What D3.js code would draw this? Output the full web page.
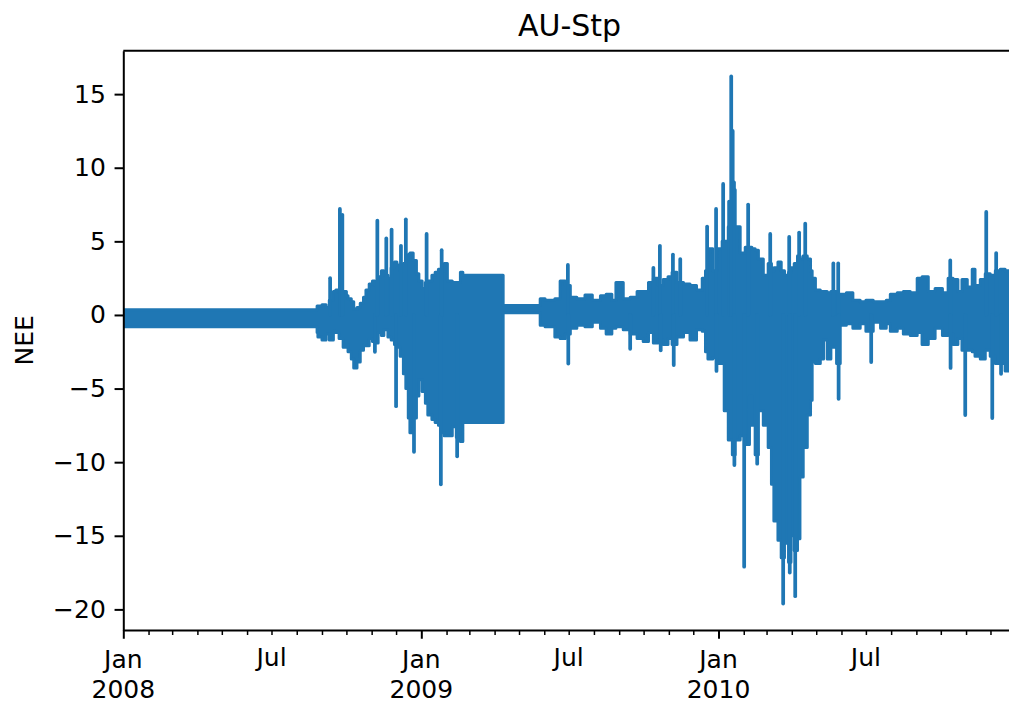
<!DOCTYPE html>
<html>
<head>
<meta charset="utf-8">
<script src="https://cdn.jsdelivr.net/npm/d3@7"></script>
<style>
  body { margin: 0; background: #fff; }
  text { font-family: "DejaVu Sans", sans-serif; }
</style>
</head>
<body>
<div id="my_dataviz"></div>
<script>
// half-hourly NEE is far too dense to type, so the band is kept as an
// upper/lower envelope (days since 1 Jan 2008) plus the single tall spikes
const envDay = [0, 238, 239, 244, 249, 253, 258, 261, 265, 270,
  274, 276, 280, 283, 287, 291, 295, 298, 302, 306,
  309, 313, 317, 320, 325, 329, 333, 336, 340, 344,
  347, 350, 352, 356, 360, 363, 367, 371, 374, 379,
  383, 387, 390, 394, 398, 404, 409, 414, 417, 466.5,
  512, 518, 530, 536.5, 543, 549, 557, 567, 576, 586,
  593, 600, 605, 614, 622.5, 631, 638.5, 645, 651, 657,
  663, 669, 674, 680, 688, 696, 704, 711, 715, 718,
  724, 729, 735.5, 738, 743, 748, 751.5, 757.6, 763.8, 769,
  772, 776, 780, 786, 792, 796, 799, 804, 808, 812,
  817, 820, 824, 828, 831, 835, 840, 844, 846, 850,
  856, 860, 864.5, 869, 876, 880.5, 888, 896, 905, 912,
  921, 930, 937, 942, 950.5, 958, 966.5, 975, 981, 988.6,
  997, 1006, 1013, 1019, 1025, 1030, 1036.5, 1042.6, 1046, 1052.5,
  1058.6, 1064.7, 1071, 1077, 1083, 1096];

const envHi = [0.35, 0.6, 0.6, 0.7, 0.5, 1.0, 1.6, 1.7, 1.5, 1.6,
  1.3, 1.1, 0.9, 0.4, 0.5, 0.8, 1.2, 1.7, 2.1, 2.3,
  2.0, 2.6, 3.0, 2.7, 2.5, 3.2, 3.6, 3.4, 3.0, 3.5,
  3.8, 4.1, 4.2, 3.7, 2.8, 2.3, 1.8, 2.2, 2.3, 2.7,
  2.9, 3.1, 3.0, 3.5, 2.3, 2.2, 2.2, 2.9, 2.7, 0.65,
  1.1, 1.0, 1.1, 2.3, 2.0, 1.2, 1.1, 1.35, 1.0, 1.3,
  1.4, 1.0, 2.2, 1.1, 1.2, 1.6, 1.6, 2.2, 2.5, 2.0,
  2.4, 2.6, 2.9, 2.2, 2.1, 2.0, 1.7, 2.5, 3.0, 4.5,
  3.0, 4.5, 5.0, 5.0, 6.0, 8.5, 6.0, 4.2, 4.6, 4.6,
  4.5, 4.4, 3.8, 2.7, 3.5, 3.0, 3.2, 3.6, 3.0, 2.7,
  2.9, 3.2, 3.5, 4.0, 3.8, 4.0, 3.8, 3.0, 2.5, 1.7,
  1.6, 1.6, 1.5, 1.6, 1.4, 1.4, 1.5, 1.0, 0.9, 1.0,
  0.9, 0.9, 1.0, 1.4, 1.5, 1.6, 1.5, 2.5, 2.6, 1.6,
  1.8, 1.5, 2.5, 2.4, 1.6, 2.4, 1.9, 3.1, 2.0, 2.4,
  2.8, 2.7, 3.0, 3.1, 3.0, 3.0];

const envLo = [-0.8, -1.2, -1.5, -1.7, -1.3, -1.7, -1.1, -1.2, -1.6, -2.2,
  -2.0, -2.5, -3.0, -3.6, -3.2, -2.4, -2.0, -2.1, -1.6, -1.8,
  -1.9, -1.2, -1.4, -1.0, -1.5, -1.7, -2.0, -2.2, -2.8, -4.0,
  -5.0, -7.0, -8.0, -7.0, -5.5, -4.4, -5.2, -6.0, -6.8, -7.1,
  -7.3, -7.5, -8.0, -8.2, -8.2, -7.6, -8.3, -8.6, -7.3, 0.15,
  -0.7, -0.8, -1.5, -1.6, -1.3, -0.9, -0.7, -0.8, -0.5, -0.9,
  -1.3, -0.9, -0.8, -1.0, -1.3, -1.6, -1.8, -1.2, -1.9, -1.7,
  -2.0, -1.6, -2.0, -1.5, -1.2, -1.7, -1.0, -1.1, -2.5, -3.0,
  -2.9, -3.3, -3.3, -6.5, -8.5, -9.5, -8.5, -8.2, -8.8, -5.5,
  -7.5, -9.5, -6.5, -7.5, -9.0, -11.5, -14.0, -15.3, -16.5, -15.5,
  -16.8, -15.0, -16.0, -15.2, -11.0, -9.0, -6.8, -5.8, -3.2, -3.3,
  -3.0, -1.7, -3.0, -2.2, -3.3, -0.7, -0.6, -0.9, -0.6, -1.1,
  -0.5, -0.9, -0.6, -1.1, -0.9, -1.3, -1.4, -1.2, -2.0, -1.6,
  -0.9, -1.4, -1.3, -2.0, -1.6, -2.4, -2.4, -2.5, -2.8, -3.0,
  -2.4, -2.8, -3.3, -3.3, -3.8, -3.8];

const spikeDay = [254, 266, 269, 309, 312, 323, 329.5, 335, 341, 347,
  357, 372.5, 390, 391, 410, 546, 546.5, 622.5, 651, 659,
  660, 675, 676, 684, 717, 728, 728.5, 736.7, 744, 746.6,
  748.4, 750, 750.5, 762.5, 767.4, 778.5, 794.5, 810.4, 817.8, 818.5,
  825.2, 830, 837.5, 872, 878, 878.5, 918.5, 1015.6, 1016, 1034,
  1059.8, 1067.2, 1072, 1078];

const spikeVal = [2.5, 7.2, 6.8, -2.5, 6.4, 5.2, 5.8, -6.2, 4.7, 6.5,
  -9.3, 5.5, -11.5, 4.4, -9.6, 3.4, -3.3, -2.3, 3.2, 4.7,
  -2.4, 4.1, -3.4, 3.8, 6.0, 7.2, -3.8, 8.9, 7.7, 16.2,
  12.5, 9.0, -10.2, -17.1, 7.5, -10.1, 5.5, -19.6, 5.3, -17.5,
  -19.1, 5.6, 6.2, 3.5, 3.5, -5.7, -3.2, 3.7, -3.6, -6.8,
  7.0, -7.0, 4.2, -4.0];

const yTicks = [-20, -15, -10, -5, 0, 5, 10, 15];
const xTickDates = ["2008-01-01", "2008-07-01", "2009-01-01", "2009-07-01", "2010-01-01", "2010-07-01"];
const xTickLabels = [["Jan", "2008"], ["Jul"], ["Jan", "2009"], ["Jul"], ["Jan", "2010"], ["Jul"]];

const margin = { top: 50.7, left: 123.3 },
    width = 892.4,
    height = 579.3;

const start = new Date(2008, 0, 1);
const toDate = function (day) { return new Date(+start + day * 864e5); };
const parse = function (s) { var p = s.split("-"); return new Date(+p[0], +p[1] - 1, +p[2]); };

const band = envDay.map(function (d, i) { return { date: toDate(d), hi: envHi[i], lo: envLo[i] }; });
const spikes = spikeDay.map(function (d, i) { return { date: toDate(d), v: spikeVal[i] }; });

const svg = d3.select("#my_dataviz")
    .append("svg")
    .attr("width", 1009)
    .attr("height", 704)
    .style("display", "block")
    .append("g")
    .attr("transform", "translate(" + margin.left + "," + margin.top + ")");

var x = d3.scaleTime()
    .domain([start, new Date(2010, 11, 31, 23, 30)])
    .range([0, width]);

var y = d3.scaleLinear()
    .domain([-21.4, 17.95])
    .range([height, 0]);

svg.append("clipPath").attr("id", "clip")
    .append("rect").attr("width", width).attr("height", height);

var plot = svg.append("g").attr("clip-path", "url(#clip)");

//envelope of the series
plot.append("path")
    .datum(band)
    .attr("d", d3.area()
        .x(function (d) { return x(d.date); })
        .y0(function (d) { return y(d.lo); })
        .y1(function (d) { return y(d.hi); })
        .curve(d3.curveStepAfter))
    .attr("fill", "#1f77b4")
    .attr("stroke", "#1f77b4")
    .attr("stroke-width", 3)
    .attr("stroke-linejoin", "round");

//single tall values
plot.selectAll("line.spike")
    .data(spikes)
    .enter()
    .append("line")
    .attr("class", "spike")
    .attr("x1", function (d) { return x(d.date); })
    .attr("x2", function (d) { return x(d.date); })
    .attr("y1", y(0))
    .attr("y2", function (d) { return y(d.v); })
    .attr("stroke", "#1f77b4")
    .attr("stroke-width", 3.75)
    .attr("stroke-linecap", "round");

//top spine (right one is off the picture)
svg.append("line")
    .attr("x1", 0).attr("x2", width)
    .attr("y1", 0).attr("y2", 0)
    .attr("stroke", "#000").attr("stroke-width", 2);

//y axis
var yAxis = svg.append("g")
    .call(d3.axisLeft(y).tickValues(yTicks).tickSize(8.75).tickPadding(8.75).tickSizeOuter(0));
yAxis.selectAll("text").attr("font-size", 25).attr("font-family", "DejaVu Sans").attr("fill", "#000");

//x axis, monthly minor ticks, longer ones at January
var months = d3.timeMonth.range(start, new Date(2011, 0, 1));
var xAxis = svg.append("g")
    .attr("transform", "translate(0," + height + ")")
    .call(d3.axisBottom(x).tickValues(months).tickSize(5).tickSizeOuter(0).tickFormat(""));
xAxis.selectAll(".tick line")
    .attr("y2", function (d) { return d.getMonth() === 0 ? 8.75 : 5; })
    .attr("stroke-width", function (d) { return d.getMonth() === 0 ? 2 : 1.5; });

svg.selectAll(".domain").attr("stroke-width", 2);
yAxis.selectAll(".tick line").attr("stroke-width", 2);

var xLab = svg.append("g")
    .selectAll("text")
    .data(xTickDates)
    .enter()
    .append("text")
    .attr("text-anchor", "middle")
    .attr("font-size", 25)
    .attr("fill", "#000")
    .attr("transform", function (d) { return "translate(" + x(parse(d)) + "," + (height + 37.5) + ")"; });

xLab.each(function (d, i) {
    var t = d3.select(this);
    xTickLabels[i].forEach(function (s, j) {
        t.append("tspan").attr("x", 0).attr("y", j * 30 - (xTickLabels[i].length === 1 ? 1.5 : 0)).text(s);
    });
});

//Add label on y axis
svg.append("text")
    .text("NEE")
    .attr("font-size", 25)
    .attr("text-anchor", "middle")
    .attr("transform", "translate(" + (33 - margin.left) + "," + (height / 2) + ")rotate(-90)");

//title
svg.append("text")
    .text("AU-Stp")
    .attr("font-size", 30)
    .attr("text-anchor", "middle")
    .attr("x", width / 2)
    .attr("y", -15);
</script>
</body>
</html>
